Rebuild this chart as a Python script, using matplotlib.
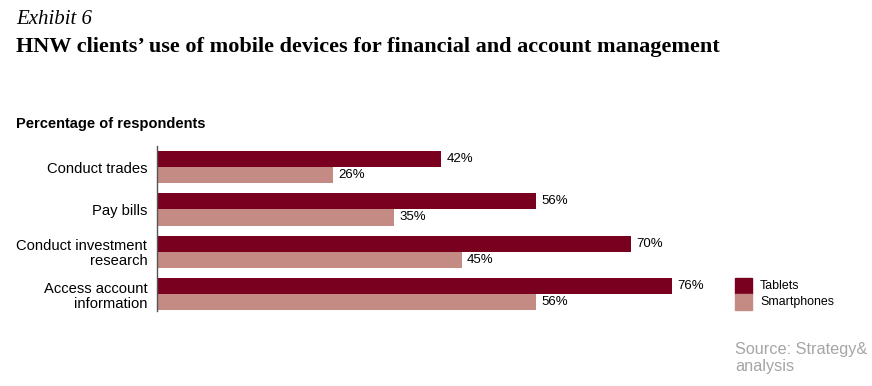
import matplotlib.pyplot as plt
from matplotlib.patches import Rectangle

categories = ["Conduct trades", "Pay bills", "Conduct investment\nresearch", "Access account\ninformation"]
tablets = [42, 56, 70, 76]
smartphones = [26, 35, 45, 56]

dark = "#7a0020"
light = "#c48b84"

fig = plt.figure(figsize=(8.72, 3.86), dpi=100)
ax = fig.add_axes([157 / 872, 1 - 311 / 386, 677 / 872, 165 / 386])

ypos = list(range(len(categories)))
h = 0.38
ax.barh([y - h / 2 for y in ypos], tablets, height=h, color=dark)
ax.barh([y + h / 2 for y in ypos], smartphones, height=h, color=light)

for y, t, s in zip(ypos, tablets, smartphones):
    ax.text(t + 0.8, y - h / 2, f"{t}%", va="center", ha="left", fontsize=9.5,
            family="Liberation Sans")
    ax.text(s + 0.8, y + h / 2, f"{s}%", va="center", ha="left", fontsize=9.5,
            family="Liberation Sans")

ax.set_xlim(0, 100)
ax.set_ylim(3.4, -0.5)
ax.set_yticks(ypos)
ax.set_yticklabels(categories, fontsize=10.6, family="Liberation Sans", linespacing=1.1)
for lab in ax.get_yticklabels():
    lab.set_multialignment("right")
ax.tick_params(axis="y", length=0, pad=7)
ax.set_xticks([])
for side in ["top", "right", "bottom"]:
    ax.spines[side].set_visible(False)
ax.spines["left"].set_color("#555555")
ax.spines["left"].set_linewidth(1)

fig.text(16 / 872, 1 - 20 / 386, "Exhibit 6", fontsize=15, style="italic",
         family="Liberation Serif", va="center")
fig.text(16 / 872, 1 - 47 / 386, "HNW clients\u2019 use of mobile devices for financial and account management",
         fontsize=16, weight="bold", family="Liberation Serif", va="center")
fig.text(16 / 872, 1 - 124 / 386, "Percentage of respondents", fontsize=10.5, weight="bold",
         family="Liberation Sans", va="center")

# legend
fig.patches.append(Rectangle((735 / 872, 1 - 294 / 386), 17 / 872, 16 / 386,
                             transform=fig.transFigure, color=dark))
fig.patches.append(Rectangle((735 / 872, 1 - 310 / 386), 17 / 872, 16 / 386,
                             transform=fig.transFigure, color=light))
fig.text(760 / 872, 1 - 286 / 386, "Tablets", fontsize=8.9, family="Liberation Sans", va="center")
fig.text(760 / 872, 1 - 302 / 386, "Smartphones", fontsize=8.9, family="Liberation Sans", va="center")

fig.text(735 / 872, 1 - 358 / 386, "Source: Strategy&\nanalysis", fontsize=11.7, color="#a5a5a5",
         family="Liberation Sans", va="center", linespacing=1.2)

fig.savefig("out.png", dpi=100, facecolor="white")
